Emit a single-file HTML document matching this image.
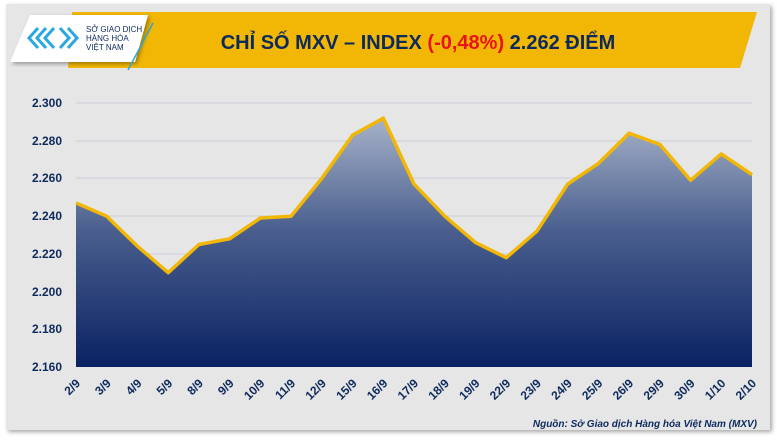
<!DOCTYPE html>
<html><head><meta charset="utf-8"><style>
body{margin:0;width:777px;height:437px;background:#fff;overflow:hidden;font-family:"Liberation Sans",sans-serif}
</style></head><body>
<svg width="777" height="437" xmlns="http://www.w3.org/2000/svg" font-family="Liberation Sans, DejaVu Sans, sans-serif">
<defs>
<linearGradient id="g" x1="0" y1="0" x2="0" y2="1"><stop offset="0" stop-color="#a7b2c9"/><stop offset="0.45" stop-color="#4a5f8e"/><stop offset="1" stop-color="#0a2263"/></linearGradient>
<filter id="sh"><feDropShadow dx="2" dy="2" stdDeviation="2" flood-opacity="0.35"/></filter>
</defs>
<rect x="6" y="4" width="764" height="426" fill="#e6e6e6" filter="url(#sh)"/>
<polygon points="72,12 757,12 740,68 68,68" fill="#f2b705"/>
<text x="418" y="49" text-anchor="middle" font-size="20" font-weight="bold" fill="#0d2a5c">CHỈ SỐ MXV – INDEX <tspan fill="#e8141c">(-0,48%)</tspan> 2.262 ĐIỂM</text>
<polygon points="30,15 148,15 135,62 10,62" fill="#fff" filter="url(#sh)"/>
<line x1="128" y1="70" x2="153" y2="23" stroke="#29a8e0" stroke-width="1.5"/>
<g fill="none" stroke="#29a8e0" stroke-width="3">
<path d="M38,28 L29,38 L38,48 M46,28 L37,38 L46,48 M54,28 L45,38 L54,48 M60,28 L69,38 L60,48 M68,28 L77,38 L68,48"/>
</g>
<text x="86" y="32" font-size="8" fill="#0d2a5c">SỞ GIAO DỊCH</text>
<text x="86" y="41" font-size="8" fill="#0d2a5c">HÀNG HÓA</text>
<text x="86" y="50" font-size="8" fill="#0d2a5c">VIỆT NAM</text>
<g stroke="#c9ced8" stroke-width="1">
<line x1="76" y1="103" x2="752" y2="103"/><line x1="76" y1="141" x2="752" y2="141"/><line x1="76" y1="178" x2="752" y2="178"/><line x1="76" y1="216" x2="752" y2="216"/><line x1="76" y1="254" x2="752" y2="254"/><line x1="76" y1="292" x2="752" y2="292"/><line x1="76" y1="329" x2="752" y2="329"/>
</g>
<g font-size="12" font-weight="bold" fill="#0d2a5c" text-anchor="end">
<text x="62" y="107">2.300</text><text x="62" y="145">2.280</text><text x="62" y="182">2.260</text><text x="62" y="220">2.240</text><text x="62" y="258">2.220</text><text x="62" y="296">2.200</text><text x="62" y="333">2.180</text><text x="62" y="371">2.160</text>
</g>
<path d="M76,203 L106.7,216.2 L137.5,246.3 L168.2,272.7 L198.9,244.5 L229.6,238.8 L260.4,218 L291.1,216.2 L321.8,178.4 L352.6,135.1 L383.3,118.1 L414,184.1 L444.8,216.2 L475.5,242.6 L506.2,257.7 L536.9,231.2 L567.7,184.1 L598.4,163.4 L629.1,133.2 L659.9,144.5 L690.6,180.3 L721.3,153.9 L752,174.7 L752,367 L76,367 Z" fill="url(#g)"/>
<path d="M76,203 L106.7,216.2 L137.5,246.3 L168.2,272.7 L198.9,244.5 L229.6,238.8 L260.4,218 L291.1,216.2 L321.8,178.4 L352.6,135.1 L383.3,118.1 L414,184.1 L444.8,216.2 L475.5,242.6 L506.2,257.7 L536.9,231.2 L567.7,184.1 L598.4,163.4 L629.1,133.2 L659.9,144.5 L690.6,180.3 L721.3,153.9 L752,174.7" fill="none" stroke="#f2b705" stroke-width="3.5" stroke-linejoin="round"/>
<g font-size="12" font-weight="bold" fill="#0d2a5c" text-anchor="end">
<text transform="translate(81,384) rotate(-45)">2/9</text>
<text transform="translate(111.7,384) rotate(-45)">3/9</text>
<text transform="translate(142.5,384) rotate(-45)">4/9</text>
<text transform="translate(173.2,384) rotate(-45)">5/9</text>
<text transform="translate(203.9,384) rotate(-45)">8/9</text>
<text transform="translate(234.6,384) rotate(-45)">9/9</text>
<text transform="translate(265.4,384) rotate(-45)">10/9</text>
<text transform="translate(296.1,384) rotate(-45)">11/9</text>
<text transform="translate(326.8,384) rotate(-45)">12/9</text>
<text transform="translate(357.6,384) rotate(-45)">15/9</text>
<text transform="translate(388.3,384) rotate(-45)">16/9</text>
<text transform="translate(419,384) rotate(-45)">17/9</text>
<text transform="translate(449.8,384) rotate(-45)">18/9</text>
<text transform="translate(480.5,384) rotate(-45)">19/9</text>
<text transform="translate(511.2,384) rotate(-45)">22/9</text>
<text transform="translate(541.9,384) rotate(-45)">23/9</text>
<text transform="translate(572.7,384) rotate(-45)">24/9</text>
<text transform="translate(603.4,384) rotate(-45)">25/9</text>
<text transform="translate(634.1,384) rotate(-45)">26/9</text>
<text transform="translate(664.9,384) rotate(-45)">29/9</text>
<text transform="translate(695.6,384) rotate(-45)">30/9</text>
<text transform="translate(726.3,384) rotate(-45)">1/10</text>
<text transform="translate(757,384) rotate(-45)">2/10</text>
</g>
<text x="757" y="427" text-anchor="end" font-size="10" font-style="italic" font-weight="bold" fill="#0d2a5c">Nguồn: Sở Giao dịch Hàng hóa Việt Nam (MXV)</text>
</svg>
</body></html>
